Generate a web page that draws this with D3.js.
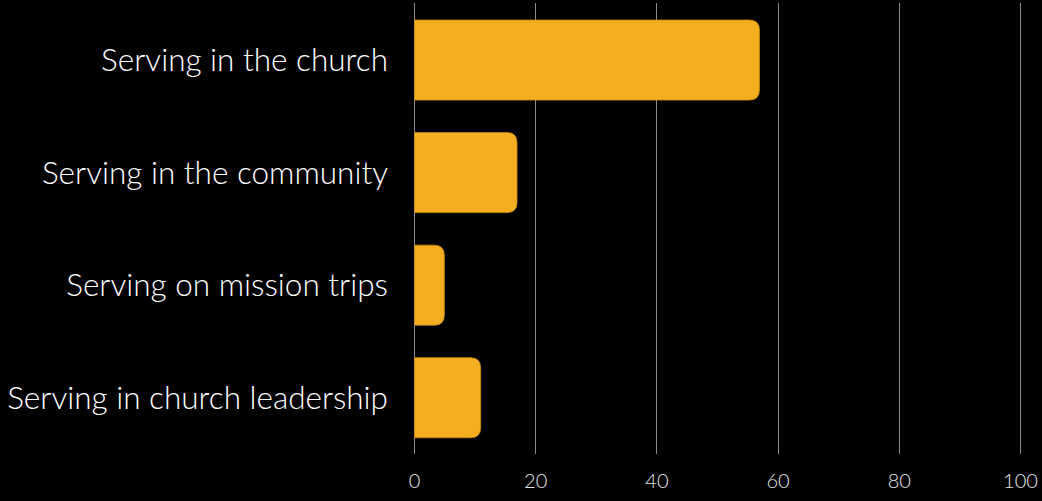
<!DOCTYPE html>
<html>
<head>
<meta charset="utf-8">
<script src="https://cdn.jsdelivr.net/npm/d3@7"></script>
<style>
  html, body { margin: 0; padding: 0; background: #000; }
  svg { display: block; }
  .cat-label { font-family: Lato, "Open Sans", sans-serif; font-weight: 300; font-size: 31.5px; fill: #fff; }
  .tick text { font-family: Lato, "Open Sans", sans-serif; font-weight: 300; font-size: 20px; fill: #e6e6e6; }
</style>
</head>
<body>
<div id="chart"></div>
<script>
const categories = [
    'Serving in the church',
    'Serving in the community',
    'Serving on mission trips',
    'Serving in church leadership'
];
const values = [57, 17, 5, 11];
const tickValues = [0, 20, 40, 60, 80, 100];

const width = 1042;
const height = 501;
const margin = {left: 414, right: 22, top: 3.75, bottom: 47};
const barColor = '#f5ae1f';
const cornerRadius = 10;

const svg = d3.select('#chart').append('svg')
    .attr('width', width)
    .attr('height', height)
    .style('background', '#000');

const x = d3.scaleLinear()
    .domain([0, 100])
    .range([margin.left, width - margin.right]);

const y = d3.scaleBand()
    .domain(categories)
    .range([margin.top, height - margin.bottom])
    .paddingInner(0.289)
    .paddingOuter(0.1445);

// grid lines
svg.append('g')
    .selectAll('line')
    .data(tickValues)
    .enter().append('line')
    .attr('x1', d => Math.round(x(d)) + 0.5)
    .attr('x2', d => Math.round(x(d)) + 0.5)
    .attr('y1', 3)
    .attr('y2', 454)
    .attr('stroke', '#8a8a8a')
    .attr('stroke-width', 1);

// bars with rounded right end
function barPath(d, i) {
    const x0 = x(0) + 0.5;
    const x1 = x(d);
    const y0 = y(categories[i]);
    const y1 = y0 + y.bandwidth();
    const r = Math.min(cornerRadius, (x1 - x0) / 2);
    return `M${x0},${y0}H${x1 - r}Q${x1},${y0} ${x1},${y0 + r}` +
        `V${y1 - r}Q${x1},${y1} ${x1 - r},${y1}H${x0}Z`;
}

svg.append('g')
    .selectAll('path')
    .data(values)
    .enter().append('path')
    .attr('d', barPath)
    .attr('fill', barColor)
    .attr('stroke', '#c98d14')
    .attr('stroke-width', 0.8);

// category labels
svg.append('g')
    .selectAll('text')
    .data(categories)
    .enter().append('text')
    .attr('class', 'cat-label')
    .attr('x', 388)
    .attr('y', d => y(d) + y.bandwidth() / 2)
    .attr('dy', '0.35em')
    .attr('text-anchor', 'end')
    .text(d => d);

// x axis
const xAxis = d3.axisBottom(x)
    .tickValues(tickValues)
    .tickSize(0)
    .tickPadding(0);

svg.append('g')
    .attr('transform', 'translate(0,474)')
    .call(xAxis)
    .call(g => g.select('.domain').remove())
    .call(g => g.selectAll('.tick text').attr('dy', '0.71em'));
</script>
</body>
</html>
